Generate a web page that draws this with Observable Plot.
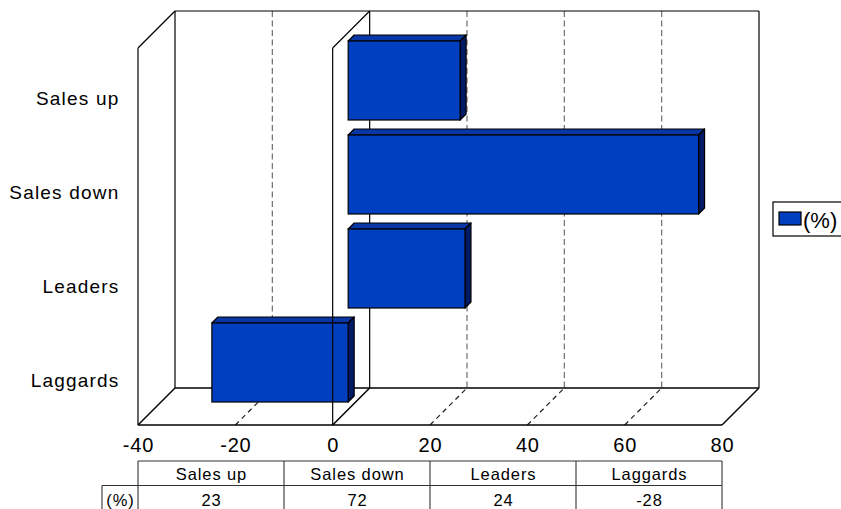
<!DOCTYPE html>
<html>
<head>
<meta charset="utf-8">
<script src="https://cdn.jsdelivr.net/npm/d3@7"></script>
<script src="https://cdn.jsdelivr.net/npm/@observablehq/plot@0.6"></script>
<style>
  body { margin: 0; background: #fff; }
  #chart { width: 841px; height: 509px; overflow: hidden; }
  #chart g[aria-label="text"][font-size="20"] text { letter-spacing: 0.8px; }
  #chart g[aria-label="text"][font-size="19"] text { letter-spacing: 1.2px; }
</style>
</head>
<body>
<div id="chart"></div>
<script>
// Survey result per group, in percent
const categories = ["Sales up", "Sales down", "Leaders", "Laggards"];
const values = [23, 72, 24, -28];
const seriesName = "(%)";
const xTicks = [-40, -20, 0, 20, 40, 60, 80];
const gridTicks = [-20, 20, 40, 60];

const rows = categories.map((category, i) => ({category, value: values[i]}));

// pseudo-3D look
const DEPTH = 37;      // depth of the walls and floor, px
const BAR_Z = 15.5;    // how far the bar front sits inside the depth, px
const BAR_D = 6;       // thickness of the bars, px
const BAR_INSET = 7.5; // gap above and below a bar within its band, px
const colors = {front: "#0040c0", top: "#0a37a6", side: "#001a66", grid: "#6e6e6e", floorGrid: "#202020"};
const font = "'Liberation Sans', Arial, Helvetica, sans-serif";

const bandwidth = (s) => (typeof s.bandwidth === "function" ? s.bandwidth() : s.bandwidth);

function segment(g, ax, ay, bx, by, {stroke = "#000", dash = null, width = 1.2} = {}) {
  const l = g.append("line")
    .attr("x1", ax).attr("y1", ay).attr("x2", bx).attr("y2", by)
    .attr("stroke", stroke).attr("stroke-width", width);
  if (dash) l.attr("stroke-dasharray", dash);
  return l;
}

// back wall, left wall, floor, gridlines and the zero plane (behind the bars)
function walls(index, {x}, channels, {height, marginTop, marginBottom}) {
  const g = d3.create("svg:g").attr("fill", "none");
  const x0 = x(xTicks[0]), x1 = x(xTicks[xTicks.length - 1]);
  const yT = marginTop, yB = height - marginBottom, D = DEPTH;
  for (const v of gridTicks) {
    segment(g, x(v) + D, yT - D, x(v) + D, yB - D, {stroke: colors.grid, dash: "6,3.5"});
    segment(g, x(v), yB, x(v) + D, yB - D, {stroke: colors.floorGrid, dash: "5,4"});
  }
  segment(g, x0 + D, yT - D, x1 + D, yT - D);
  segment(g, x0 + D, yT - D, x0 + D, yB - D);
  segment(g, x1 + D, yT - D, x1 + D, yB - D);
  segment(g, x0, yT, x0, yB);
  segment(g, x0, yT, x0 + D, yT - D);
  segment(g, x0 + D, yB - D, x1 + D, yB - D, {width: 1.5});
  segment(g, x0, yB, x1, yB, {width: 1.5});
  segment(g, x0, yB, x0 + D, yB - D, {width: 1.5});
  segment(g, x1, yB, x1 + D, yB - D, {width: 1.5});
  const z = x(0);
  segment(g, z + D, yT - D, z + D, yB - D);
  segment(g, z, yT, z + D, yT - D);
  segment(g, z, yB, z + D, yB - D, {width: 1.5});
  return g.node();
}

// top and right faces of each bar
function barFaces(index, {x, y}) {
  const bw = bandwidth(y);
  const g = d3.create("svg:g").attr("stroke", "#000").attr("stroke-width", 1.2).attr("stroke-linejoin", "round");
  for (const r of rows) {
    const xa = Math.min(x(0), x(r.value)) + BAR_Z;
    const xb = Math.max(x(0), x(r.value)) + BAR_Z;
    const yt = y(r.category) + BAR_INSET - BAR_Z;
    const yb = y(r.category) + bw - BAR_INSET - BAR_Z;
    const d = BAR_D;
    g.append("path").attr("fill", colors.top)
      .attr("d", `M${xa},${yt}L${xb},${yt}L${xb + d},${yt - d}L${xa + d},${yt - d}Z`);
    g.append("path").attr("fill", colors.side)
      .attr("d", `M${xb},${yt}L${xb + d},${yt - d}L${xb + d},${yb - d}L${xb},${yb}Z`);
  }
  return g.node();
}

// front edge of the zero plane, drawn over the bars
function zeroFront(index, {x}, channels, {height, marginTop, marginBottom}) {
  const g = d3.create("svg:g");
  segment(g, x(0), marginTop, x(0), height - marginBottom);
  return g.node();
}

// data table under the axis
function dataTable(index, {x}, channels, {height, marginBottom}) {
  const g = d3.create("svg:g");
  const xL = x(xTicks[0]), xR = x(xTicks[xTicks.length - 1]);
  const w = (xR - xL) / categories.length;
  const yB = height - marginBottom;
  const top = yB + 36, mid = yB + 60.5, bot = height + 2;
  const keyLeft = xL - 36;
  const line = {stroke: "#333", width: 1.1};
  segment(g, xL, top, xR, top, line);
  segment(g, keyLeft, mid, xR, mid, line);
  segment(g, keyLeft, mid, keyLeft, bot, line);
  for (let i = 0; i <= categories.length; ++i) segment(g, xL + i * w, top, xL + i * w, bot, line);
  const t = g.append("g").attr("font-family", font).attr("font-size", 16.5)
    .attr("text-anchor", "middle").attr("fill", "#000").style("letter-spacing", "0.9px");
  categories.forEach((c, i) => {
    t.append("text").attr("x", xL + (i + 0.5) * w + 0.5).attr("y", top + 18.5).text(c);
    t.append("text").attr("x", xL + (i + 0.5) * w + 0.5).attr("y", mid + 20).text(`${values[i]}`);
  });
  t.append("text").attr("x", (keyLeft + xL) / 2 + 0.5).attr("y", mid + 20).text(seriesName);
  return g.node();
}

// legend box on the right
function legend(index, scales, channels, {width, height}) {
  const g = d3.create("svg:g");
  const left = width - 68, top = height / 2 - 52.5;
  g.append("rect").attr("x", left).attr("y", top).attr("width", 80).attr("height", 34)
    .attr("fill", "#fff").attr("stroke", "#000").attr("stroke-width", 1.2);
  g.append("rect").attr("x", left + 6).attr("y", top + 10).attr("width", 22).attr("height", 13)
    .attr("fill", colors.front).attr("stroke", "#000").attr("stroke-width", 1.2);
  g.append("text").attr("x", left + 30).attr("y", top + 25.5).attr("text-anchor", "start")
    .attr("font-family", font).attr("font-size", 22).attr("fill", "#000").text(seriesName);
  return g.node();
}

const chart = Plot.plot({
  width: 841,
  height: 509,
  marginLeft: 138,
  marginRight: 119,
  marginTop: 48,
  marginBottom: 84,
  style: {fontFamily: font, background: "#fff", color: "#000", overflow: "visible"},
  x: {domain: [xTicks[0], xTicks[xTicks.length - 1]], axis: null},
  y: {type: "band", domain: categories, padding: 0, axis: null},
  marks: [
    walls,
    barFaces,
    Plot.barX(rows, {
      y: "category", x1: 0, x2: "value",
      dx: BAR_Z, dy: -BAR_Z, insetTop: BAR_INSET, insetBottom: BAR_INSET,
      fill: colors.front, stroke: "#000", strokeWidth: 1.2
    }),
    zeroFront,
    Plot.text(xTicks, {x: (d) => d, text: (d) => `${d}`, frameAnchor: "bottom", dy: 26, fontSize: 20}),
    Plot.text(categories, {y: (d) => d, text: (d) => d, frameAnchor: "left", textAnchor: "end", dx: -19, dy: 2, fontSize: 19}),
    dataTable,
    legend
  ]
});

document.getElementById("chart").append(chart);
</script>
</body>
</html>
